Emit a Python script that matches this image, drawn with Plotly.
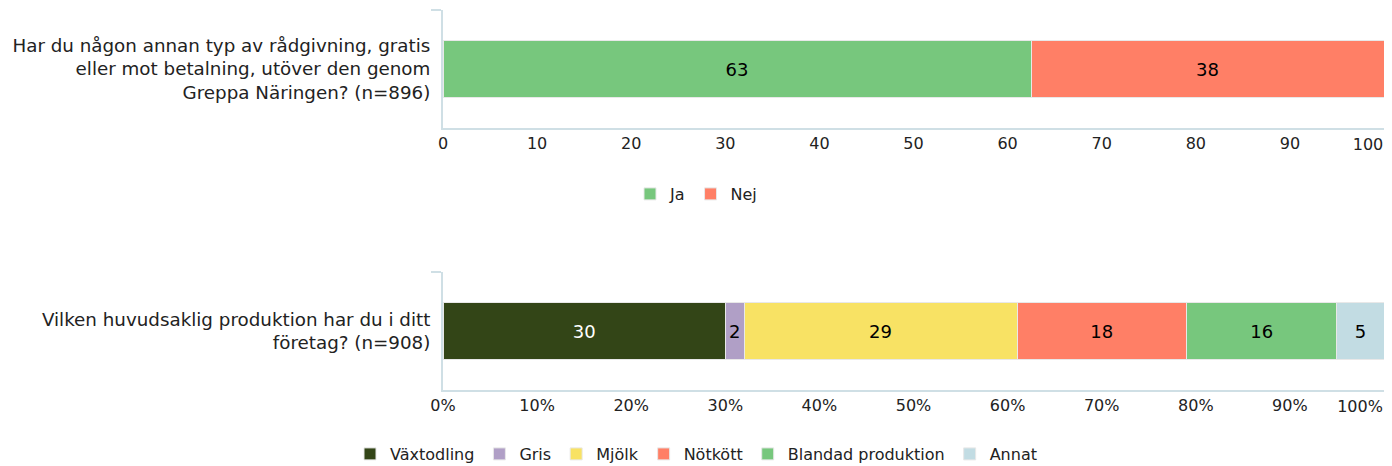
import plotly.graph_objects as go

# --- data ---
q1_label = "Har du någon annan typ av rådgivning, gratis<br>eller mot betalning, utöver den genom<br>Greppa Näringen? (n=896)"
q1_series = ["Ja", "Nej"]
q1_values = [62.5, 37.5]
q1_colors = ["#77c77d", "#ff7f66"]

q2_label = "Vilken huvudsaklig produktion har du i ditt<br>företag? (n=908)"
q2_series = ["Växtodling", "Gris", "Mjölk", "Nötkött", "Blandad produktion", "Annat"]
q2_values = [30, 2, 29, 18, 16, 5]
q2_colors = ["#334517", "#b09fc6", "#f8e264", "#ff7f66", "#77c77d", "#c2dce3"]
q2_textcolors = ["#ffffff", "#000000", "#000000", "#000000", "#000000", "#000000"]

tick_vals = [0, 10, 20, 30, 40, 50, 60, 70, 80, 90]
q1_ticktext = ["0", "10", "20", "30", "40", "50", "60", "70", "80", "90"]
q2_ticktext = ["0%", "10%", "20%", "30%", "40%", "50%", "60%", "70%", "80%", "90%"]
end_tick_val = [100]
q1_end_text = ["100"]
q2_end_text = ["100%"]

FONT = "DejaVu Sans"
OFF = 8  # page body margin
W, H = 1392 - 2 * OFF, 466 - OFF

def px_x(p):
    return (p - OFF) / W

def px_y(p):
    return 1 - (p - OFF) / H

fig = go.Figure()

for name, val, col in zip(q1_series, q1_values, q1_colors):
    fig.add_trace(go.Bar(
        x=[val], y=[q1_label], orientation="h", name=name,
        marker=dict(color=col, line=dict(color="#e8e8e8", width=1)),
        text=[val], texttemplate="%{x:.0f}", textposition="inside",
        insidetextanchor="middle", textangle=0,
        textfont=dict(color="#000000", size=18, family=FONT),
        xaxis="x", yaxis="y", legend="legend",
    ))

for name, val, col, tc in zip(q2_series, q2_values, q2_colors, q2_textcolors):
    fig.add_trace(go.Bar(
        x=[val], y=[q2_label], orientation="h", name=name,
        marker=dict(color=col, line=dict(color="#e8e8e8", width=1)),
        text=[val], texttemplate="%{x:.0f}", textposition="inside",
        insidetextanchor="middle", textangle=0,
        textfont=dict(color=tc, size=18, family=FONT),
        xaxis="x2", yaxis="y2", legend="legend2",
    ))

# empty helper traces so the overlaying end-label axes get drawn
fig.add_trace(go.Scatter(x=[], y=[], xaxis="x3", yaxis="y", showlegend=False, hoverinfo="skip"))
fig.add_trace(go.Scatter(x=[], y=[], xaxis="x4", yaxis="y2", showlegend=False, hoverinfo="skip"))

axis_line = "#cfdfe5"
XDOM = [px_x(443), 1.0]
TICKFONT = dict(size=16, family=FONT, color="#222222")

def xax(anchor, tickvals, ticktext):
    return dict(
        domain=XDOM, anchor=anchor, range=[0, 100],
        tickvals=tickvals, ticktext=ticktext, showgrid=False, zeroline=False,
        showline=True, linecolor=axis_line, linewidth=2, ticks="",
        ticklabelstandoff=0, automargin=False, ticklabeloverflow="allow",
        tickfont=TICKFONT, fixedrange=True,
    )

def xax_end(anchor, over, ticktext, shift):
    return dict(
        domain=XDOM, anchor=anchor, overlaying=over, range=[0, 100],
        tickvals=end_tick_val, ticktext=ticktext, showgrid=False, zeroline=False,
        showline=False, ticks="", ticklabelstandoff=5, ticklabelshift=shift,
        automargin=False, ticklabeloverflow="allow",
        tickfont=TICKFONT, fixedrange=True,
    )

def yax(domain, anchor):
    return dict(
        domain=domain, anchor=anchor, showgrid=False, zeroline=False,
        showline=True, linecolor=axis_line, linewidth=2, automargin=False,
        ticks="outside", tickson="boundaries", ticklen=10, tickcolor=axis_line, tickwidth=2,
        ticklabelstandoff=7,
        tickfont=dict(size=18.3, family=FONT, color="#222222"), fixedrange=True,
    )

fig.update_layout(
    width=W, height=H, barmode="stack", bargap=0.517,
    margin=dict(l=0, r=0, t=0, b=0, autoexpand=False),
    paper_bgcolor="white", plot_bgcolor="white",
    font=dict(family=FONT, color="#222222"),
    xaxis=xax("y", tick_vals, q1_ticktext),
    yaxis=yax([px_y(128), px_y(10)], "x"),
    xaxis2=xax("y2", tick_vals, q2_ticktext),
    yaxis2=yax([px_y(390), px_y(272)], "x2"),
    xaxis3=xax_end("y", "x", q1_end_text, -16),
    xaxis4=xax_end("y2", "x2", q2_end_text, -24),
    legend=dict(orientation="h", x=(696 - OFF) / W, xanchor="center", y=px_y(194), yanchor="middle",
                font=dict(size=16, family=FONT, color="#222222"), traceorder="normal"),
    legend2=dict(orientation="h", x=(696 - OFF) / W, xanchor="center", y=px_y(454), yanchor="middle",
                 font=dict(size=16, family=FONT, color="#222222"), traceorder="normal"),
    showlegend=True,
)

fig.write_html("out.html")
